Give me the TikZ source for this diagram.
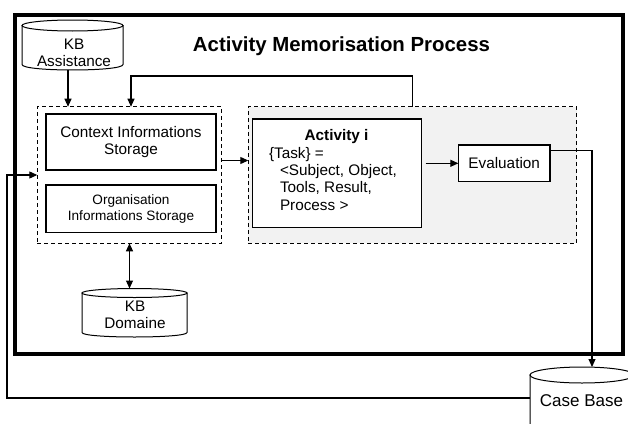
\documentclass[tikz,border=0pt]{standalone}
\usepackage{fontspec}
\setmainfont{Liberation Sans}
\usetikzlibrary{arrows.meta}

% database cylinder: x-left, x-right, y-top, y-bottom, half height of the ellipse
\newcommand\kbcylinder[5]{%
  \draw[cylline, fill=white] (#1,#3+#5) -- (#1,#4-#5)
    .. controls (#1,#4-#5+1.333*#5) and (#2,#4-#5+1.333*#5) .. (#2,#4-#5)
    -- (#2,#3+#5) -- cycle;
  \draw[cylline, fill=white] ({(#1+#2)/2},#3+#5) ellipse [x radius={(#2-#1)/2}, y radius=#5];
}

\begin{document}
\begin{tikzpicture}[x=1pt, y=-1pt,
  every node/.style={inner sep=0pt, outer sep=0pt,
    font=\fontsize{15.3}{17.3}\selectfont},
  frame/.style={draw, line width=3.5pt},
  box/.style={draw, line width=1.3pt, fill=white, align=center},
  grpbox/.style={draw, line width=1.2pt, dash pattern=on 4pt off 3pt},
  cylline/.style={line width=1pt},
  hidden/.style={draw=none},
  wire/.style={line width=1.1pt},
  arr/.style={wire, -{Triangle[length=8pt, width=7pt]}},
  dblarr/.style={wire, {Triangle[length=8pt, width=7pt]}-{Triangle[length=8pt, width=7pt]}},
]
\useasboundingbox (0,0) rectangle (628,423);
\clip (0,0) rectangle (628,423);

% main frame and title
\node[frame, minimum width=608, minimum height=339] (frame) at (319,184.5) {};
\node[anchor=base, font=\bfseries\fontsize{20.4}{24}\selectfont] (title)
  at (341.5,51.7) {Activity Memorisation Process};

% storage group
\node[grpbox, minimum width=184.4, minimum height=136.6] (left) at (129.5,175) {};
\node[box, minimum width=170, minimum height=56] (ctx) at (131,142)
  {Context Informations\\Storage};
\node[box, minimum width=170, minimum height=47.7,
  font=\fontsize{13.6}{15.7}\selectfont] (org) at (131,208.8)
  {Organisation\\Informations Storage};

% activity group
\node[grpbox, fill=gray!10, minimum width=328.4, minimum height=136.6] (grp) at (412.5,175) {};
\node[box, minimum width=169.4, minimum height=108.7] (act) at (337,173.3) {};
\node[anchor=base, font=\bfseries\fontsize{15.3}{17.3}\selectfont] (actT) at (336.5,140) {Activity i};
\node[anchor=base west] (task1) at (269,158.3) {\{Task\} =};
\node[anchor=base west] (task2) at (280,175.6) {<Subject, Object,};
\node[anchor=base west] (task3) at (280,192.9) {Tools, Result,};
\node[anchor=base west] (task4) at (280,210.2) {Process >};
\node[box, minimum width=91.7, minimum height=36.7] (eval) at (504.2,163.3) {Evaluation};

% knowledge bases
\kbcylinder{22}{123}{20}{70}{5.5}
\node[hidden, minimum width=101, minimum height=50] (kba) at (72.5,45) {};
\node[align=center, font=\fontsize{15.3}{16.7}\selectfont] (kbaT) at (74,53) {KB\\Assistance};

\kbcylinder{82}{187}{288.5}{337}{4.5}
\node[hidden, minimum width=105, minimum height=48.5] (kbd) at (134.5,312.75) {};
\node[align=center, font=\fontsize{15.3}{16.5}\selectfont] (kbdT) at (135,314.6) {KB\\Domaine};

\kbcylinder{530}{634}{367}{440}{8}
\node[hidden, minimum width=104, minimum height=73] (cb) at (582,403.5) {};
\node[anchor=base, font=\fontsize{17}{20}\selectfont] (cbT) at (581.5,406.7) {Case Base};

% connectors
\draw[arr] ([xshift=-4.5pt]kba.south) -- ([xshift=-4.5pt]kba.south |- left.north);

\coordinate (fbR) at (412.5,76);
\coordinate (fbL) at (131,76);
\draw[arr] (fbR |- grp.north) -- (fbR) -- (fbL) -- (fbL |- left.north);

\coordinate (row) at (235,160.5);
\draw[arr] (left.east |- row) -- (grp.west |- row);

\draw[arr] ([xshift=4pt]act.east |- eval.west) -- (eval.west);

\coordinate (evR) at (592,150.5);
\draw[arr] (eval.east |- evR) -- (evR) -- (evR |- cb.north);

\coordinate (cbL) at (7,398);
\draw[arr] (cb.west |- cbL) -- (cbL) -- (cbL |- left.west) -- (left.west);

\draw[dblarr] (left.south) -- (left.south |- kbd.north);
\end{tikzpicture}
\end{document}
